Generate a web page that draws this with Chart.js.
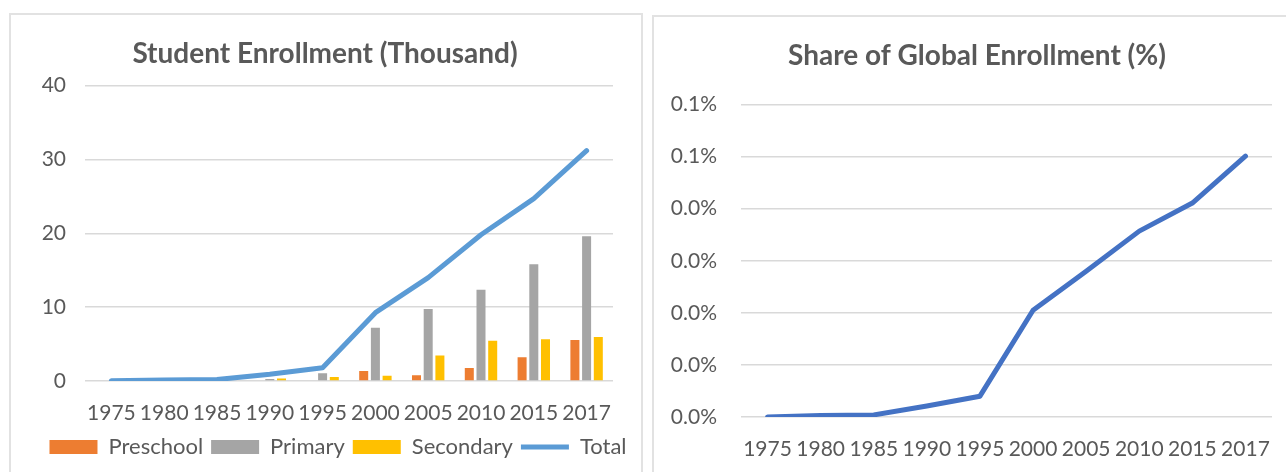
<!DOCTYPE html>
<html lang="en">
<head>
  <meta charset="UTF-8" />
  <title>Student Enrollment</title>
  <script src="https://cdn.jsdelivr.net/npm/chart.js"></script>
  <style>
    html, body { margin: 0; padding: 0; background: #fff; overflow: hidden; width: 1286px; height: 472px; }
    .panel { position: absolute; border: 2px solid #e2e2e2; background: #fff; }
    #leftPanel { left: 9px; top: 13px; width: 630px; height: 470px; }
    #rightPanel { left: 652px; top: 15px; width: 650px; height: 470px; }
    canvas { display: block; }
  </style>
</head>
<body>
  <div class="panel" id="leftPanel"><canvas id="enrollChart" width="630" height="457"></canvas></div>
  <div class="panel" id="rightPanel"><canvas id="shareChart" width="650" height="455"></canvas></div>

  <script>
    const years = ['1975', '1980', '1985', '1990', '1995', '2000', '2005', '2010', '2015', '2017'];

    // thousands of students
    const preschool = [0, 0, 0, 0, 0, 1.35, 0.78, 1.77, 3.23, 5.55];
    const primary   = [0, 0, 0.02, 0.27, 1.05, 7.2, 9.75, 12.35, 15.8, 19.6];
    const secondary = [0, 0, 0, 0.35, 0.55, 0.72, 3.45, 5.45, 5.65, 5.95];
    const total     = [0.05, 0.15, 0.2, 0.9, 1.8, 9.25, 14.0, 19.8, 24.7, 31.2];

    // share of global enrollment, in percent
    const globalShare = [0, 0.0003, 0.0004, 0.0021, 0.0040, 0.0205, 0.0280, 0.0357, 0.0411, 0.0501];

    const textColor = '#595959';
    const gridColor = '#d9d9d9';
    Chart.defaults.font.family = 'Lato, Carlito, sans-serif';
    Chart.defaults.color = textColor;

    const barSet = (label, data, color) => ({
      type: 'bar',
      label,
      data,
      backgroundColor: color,
      borderWidth: 0,
      pointStyle: 'rect',
      order: 1,
      categoryPercentage: 0.665,
      barPercentage: 0.77
    });

    // title and legend sit centred on the whole panel, not on the padded box
    const shiftBoxes = {
      id: 'shiftBoxes',
      afterLayout(chart, args, opts) {
        const move = (box, dx, dy) => {
          if (!box) return;
          box.left += dx; box.right += dx;
          box.top += dy; box.bottom += dy;
        };
        move(chart.titleBlock, opts.titleX || 0, 0);
        move(chart.legend, opts.legendX || 0, opts.legendY || 0);
      }
    };

    const xAxis = {
      offset: true,
      grid: { display: false, drawTicks: false },
      border: { display: false },
      ticks: { padding: 20, font: { size: 21 }, color: textColor, maxRotation: 0, autoSkip: false },
      afterFit: scale => { scale.height = 44; }
    };

    new Chart(document.getElementById('enrollChart'), {
      data: {
        labels: years,
        datasets: [
          barSet('Preschool', preschool, '#ED7D31'),
          barSet('Primary', primary, '#A5A5A5'),
          barSet('Secondary', secondary, '#FFC000'),
          {
            type: 'line',
            label: 'Total',
            data: total,
            borderColor: '#5B9BD5',
            backgroundColor: '#5B9BD5',
            borderWidth: 5,
            borderCapStyle: 'round',
            borderJoinStyle: 'round',
            pointRadius: 0,
            pointStyle: 'line',
            order: 0
          }
        ]
      },
      plugins: [shiftBoxes],
      options: {
        responsive: false,
        animation: false,
        layout: { padding: { top: 0, right: 28, bottom: 7, left: 0 } },
        plugins: {
          shiftBoxes: { titleX: 13, legendX: 26, legendY: 3 },
          title: {
            display: true,
            text: 'Student Enrollment (Thousand)',
            color: textColor,
            font: { size: 28, weight: 'bold' },
            padding: { top: 22, bottom: 15 }
          },
          legend: {
            position: 'bottom',
            labels: {
              usePointStyle: true,
              pointStyleWidth: 48,
              boxHeight: 14,
              padding: 8,
              color: textColor,
              font: { size: 22 },
              sort: (a, b) => a.datasetIndex - b.datasetIndex
            }
          },
          tooltip: { enabled: false }
        },
        scales: {
          x: xAxis,
          y: {
            min: 0,
            max: 40,
            ticks: { stepSize: 10, padding: 19, font: { size: 21 }, color: textColor },
            grid: { color: gridColor, lineWidth: 1.5, drawTicks: false },
            border: { display: false },
            afterFit: scale => { scale.width = 74; }
          }
        }
      }
    });

    new Chart(document.getElementById('shareChart'), {
      type: 'line',
      data: {
        labels: years,
        datasets: [{
          label: 'Share',
          data: globalShare,
          borderColor: '#4472C4',
          backgroundColor: '#4472C4',
          borderWidth: 5,
          borderCapStyle: 'round',
          borderJoinStyle: 'round',
          pointRadius: 0
        }]
      },
      plugins: [shiftBoxes],
      options: {
        responsive: false,
        animation: false,
        layout: { padding: { top: 0, right: 32, bottom: 11, left: 0 } },
        plugins: {
          shiftBoxes: { titleX: 14 },
          title: {
            display: true,
            text: 'Share of Global Enrollment (%)',
            color: textColor,
            font: { size: 28, weight: 'bold' },
            padding: { top: 22, bottom: 32 }
          },
          legend: { display: false },
          tooltip: { enabled: false }
        },
        scales: {
          x: xAxis,
          y: {
            min: 0,
            max: 0.06,
            ticks: {
              stepSize: 0.01,
              padding: 24,
              font: { size: 21 },
              color: textColor,
              callback: v => (Math.round(Math.round(v * 1000) / 100) / 10).toFixed(1) + '%'
            },
            grid: { color: gridColor, lineWidth: 1.5, drawTicks: false },
            border: { display: false },
            afterFit: scale => { scale.width = 87; }
          }
        }
      }
    });
  </script>
</body>
</html>
